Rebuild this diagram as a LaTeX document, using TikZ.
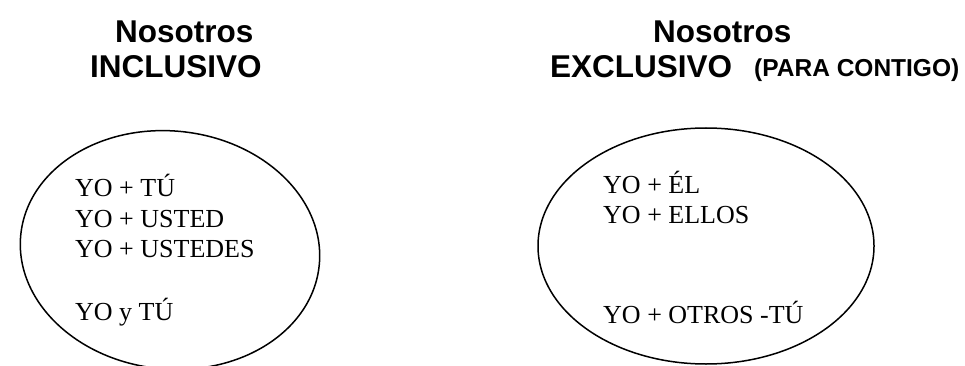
\documentclass[tikz,border=0pt]{standalone}
\usepackage{fontspec}
\setmainfont{Liberation Serif}
\newfontfamily\titlefont{Liberation Sans}
\tikzset{
  ttl/.style={anchor=base west, inner sep=0pt, font=\titlefont\bfseries\fontsize{31.5}{36}\selectfont},
  ttlsmall/.style={anchor=base west, inner sep=0pt, font=\titlefont\bfseries\fontsize{24.5}{28}\selectfont},
  item/.style={anchor=base west, inner sep=0pt, font=\fontsize{26}{30}\selectfont},
  oval/.style={line width=1.5pt, black}
}
\begin{document}
\begin{tikzpicture}[x=1pt, y=-1pt]
\useasboundingbox (0,0) rectangle (965,366);
\clip (0,0) rectangle (965,366);
\fill[white] (0,0) rectangle (965,366);
% titles
\node[ttl] (n1) at (115,43) {Nosotros};
\node[ttl] (inc) at (90,78) {INCLUSIVO};
\node[ttl] (n2) at (653,43) {Nosotros};
\node[ttl] (exc) at (550,78) {EXCLUSIVO};
\node[ttlsmall] (para) at (754,77) {(PARA CONTIGO)};
% ellipses
\draw[oval] (170,250) ellipse [x radius=150, y radius=119, rotate=-6];
\draw[oval] (706,246) ellipse [x radius=168, y radius=118];
% left items
\node[item] (l1) at (75,196) {YO + TÚ};
\node[item] (l2) at (75,227) {YO + USTED};
\node[item] (l3) at (75,257) {YO + USTEDES};
\node[item] (l4) at (75,320) {YO y TÚ};
% right items
\node[item] (r1) at (603,193) {YO + ÉL};
\node[item] (r2) at (603,223) {YO + ELLOS};
\node[item] (r3) at (603,323) {YO + OTROS -TÚ};
\end{tikzpicture}
\end{document}
